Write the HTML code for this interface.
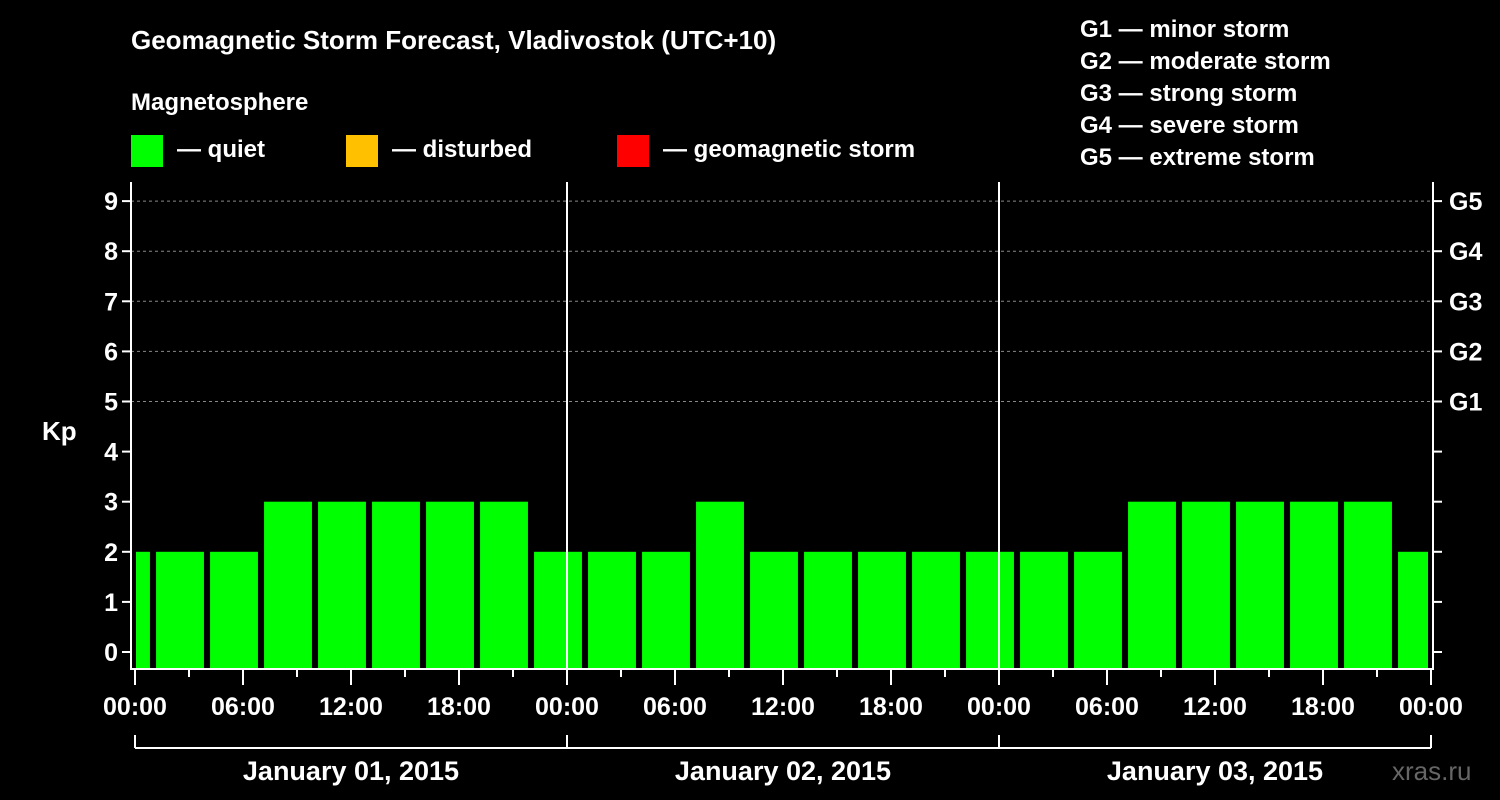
<!DOCTYPE html>
<html><head><meta charset="utf-8"><style>
body{margin:0;background:#000;width:1500px;height:800px;overflow:hidden}
svg{display:block;font-family:"Liberation Sans",Arial,sans-serif;font-weight:bold}
</style></head><body>
<svg id="c" width="1500" height="800">
<text x="131" y="49" fill="#fff" font-size="26">Geomagnetic Storm Forecast, Vladivostok (UTC+10)</text>
<text x="131" y="110" fill="#fff" font-size="24">Magnetosphere</text>
<rect x="131" y="135" width="32" height="32" fill="#00ff00"/>
<text x="177" y="157" fill="#fff" font-size="24">— quiet</text>
<rect x="346" y="135" width="32" height="32" fill="#ffc000"/>
<text x="392" y="157" fill="#fff" font-size="24">— disturbed</text>
<rect x="617" y="135" width="32" height="32" fill="#ff0000"/>
<text x="663" y="157" fill="#fff" font-size="24">— geomagnetic storm</text>
<g fill="#fff" font-size="24">
<text x="1080" y="37">G1 — minor storm</text>
<text x="1080" y="69">G2 — moderate storm</text>
<text x="1080" y="101">G3 — strong storm</text>
<text x="1080" y="133">G4 — severe storm</text>
<text x="1080" y="165">G5 — extreme storm</text>
</g>
<text x="42" y="440" fill="#fff" font-size="26">Kp</text>
<text x="1392" y="780" fill="#666" font-size="26" font-weight="normal">xras.ru</text>
<g id="g"></g>
</svg>
<script>
const kpValues=[2,2,2,3,3,3,3,3,2,2,2,3,2,2,2,2,2,2,2,3,3,3,3,3,2];
const yTicks=[0,1,2,3,4,5,6,7,8,9];
const gLabels=["G1","G2","G3","G4","G5"];
const xTickLabels=["00:00","06:00","12:00","18:00","00:00","06:00","12:00","18:00","00:00","06:00","12:00","18:00","00:00"];
const dayLabels=["January 01, 2015","January 02, 2015","January 03, 2015"];
const NS="http://www.w3.org/2000/svg",g=document.getElementById("g");
const X0=135,PXH=18,L=131,R=1433,T=182,B=668;
const x=h=>X0+h*PXH, y=k=>652-k*50.1;
function el(t,a,txt){const e=document.createElementNS(NS,t);for(const k in a)e.setAttribute(k,a[k]);if(txt!=null)e.textContent=txt;g.appendChild(e);return e;}
yTicks.forEach(k=>{
 if(k>=5){const l=el("line",{x1:L,x2:R,y1:y(k),y2:y(k),stroke:"#888","stroke-dasharray":"3,3"});
 
 }
 const t1=el("line",{x1:L-9,x2:L,y1:y(k),y2:y(k),stroke:"#fff","stroke-width":2});
 
 
 const t2=el("line",{x1:R,x2:R+9,y1:y(k),y2:y(k),stroke:"#fff","stroke-width":2});
 
 
 const tl=el("text",{x:L-13,y:y(k)+9,fill:"#fff","font-size":25,"text-anchor":"end"},k);
 
 
});
gLabels.forEach((s,i)=>{const t=el("text",{x:R+16,y:y(i+5)+9,fill:"#fff","font-size":25},s);
 
 });
kpValues.forEach((v,i)=>{
 let h0=-2+3*i+0.17,h1=h0+2.66;
 let a=Math.max(x(h0),X0+1),b=Math.min(x(h1),1428);
 const c=v>=5?"#ff0000":v>=4?"#ffc000":"#00ff00";
 const r=el("rect",{x:a,y:y(v),width:b-a,height:B-y(v),fill:c});
 
 
});
[1,2].forEach(d=>{const l=el("line",{x1:x(24*d),x2:x(24*d),y1:T,y2:B,stroke:"#fff","stroke-width":2});
 
 });
const ax=el("path",{d:`M${L} ${T}V${B+1}H${R}V${T}`,stroke:"#fff","stroke-width":2,fill:"none"});


for(let h=0;h<=72;h+=3){const maj=h%6==0;
 const t=el("line",{x1:x(h),x2:x(h),y1:B+2,y2:maj?B+17:B+9,stroke:"#fff","stroke-width":2});
 
 }
xTickLabels.forEach((s,i)=>{const t=el("text",{x:x(6*i),y:715,fill:"#fff","font-size":25,"text-anchor":"middle"},s);
 
 });
const br=el("line",{x1:x(0),x2:x(72),y1:748,y2:748,stroke:"#fff","stroke-width":2});


[0,1,2,3].forEach(d=>{const t=el("line",{x1:x(24*d),x2:x(24*d),y1:735,y2:748,stroke:"#fff","stroke-width":2});
 
 });
dayLabels.forEach((s,i)=>{const t=el("text",{x:x(24*i+12),y:780,fill:"#fff","font-size":27,"text-anchor":"middle"},s);
 
 });
</script>
</body></html>
